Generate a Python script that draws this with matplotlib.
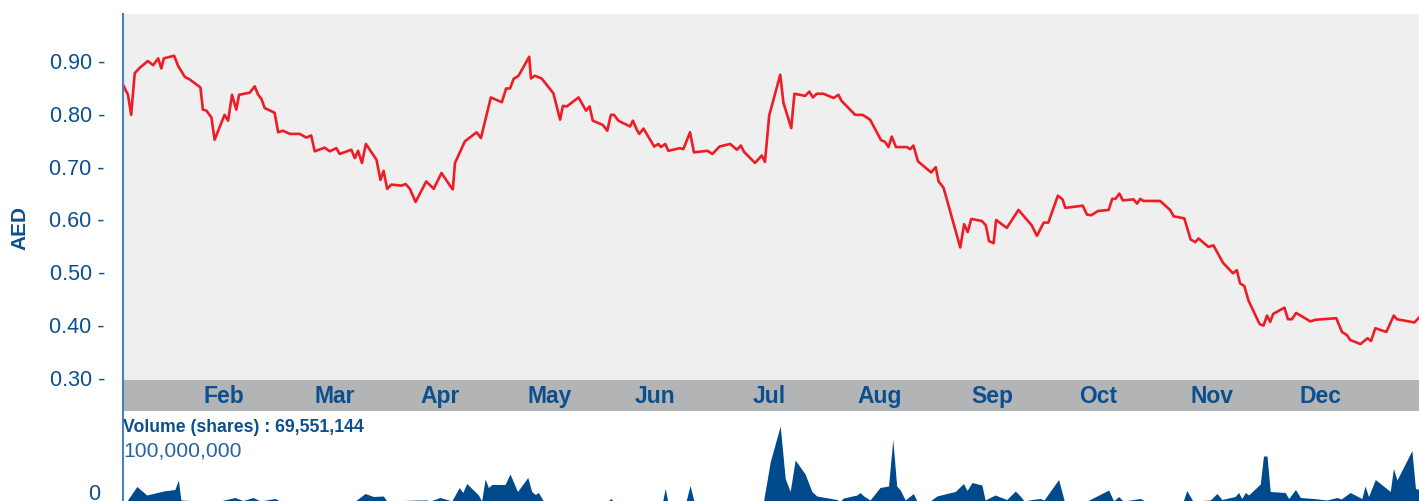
import matplotlib.pyplot as plt
from matplotlib.ticker import FixedLocator

# day of year (0 = 1 Jan) and closing price in AED
price_days = [0, 1.4, 2.3, 3.3, 4.7, 7, 8.5, 9.9, 10.8, 11.5, 14.4, 15.5, 17.4, 18.8,
              21.8, 22.5, 23.5, 24.9, 25.8, 28.6, 29.6, 30.7, 31.9, 32.7, 35.7, 37.1,
              38, 39, 39.9, 42.7, 43.7, 45, 47, 49.8, 51.6, 53, 54, 56.8, 58.2, 60.1,
              61, 64.3, 65.3, 66.2, 67.3, 68.4, 71.4, 72.5, 73.4, 74.4, 75.6, 78.4,
              79.6, 80.8, 82.4, 85.4, 87.5, 89.7, 92.5, 92.9, 93.5, 96.3, 99.6, 100.8,
              103.6, 106.7, 107.9, 109, 110, 111.4, 114.4, 114.9, 116, 117.9, 119.3,
              121.2, 123.1, 123.9, 125, 128.3, 130.4, 131.4, 132.3, 135.1, 136.4,
              137.4, 138.3, 139.5, 142.8, 143.6, 144.7, 145.4, 146.6, 149.6, 150.8,
              151.5, 152.7, 153.6, 156.9, 157.8, 159.7, 160.8, 164.6, 166, 168, 171,
              172.9, 174, 174.9, 178, 179.9, 180.8, 182, 185.1, 186, 188.2, 189.1,
              192.1, 193.3, 194.3, 195.4, 197.3, 200.1, 201.5, 202.3, 206.2, 208.3,
              210.4, 213.5, 214.6, 215.6, 216.5, 217.7, 220.8, 221.7, 222.6, 223.9,
              227.6, 228.9, 229.7, 231.1, 235.8, 236.9, 237.9, 238.9, 241.9, 243,
              243.9, 245.2, 245.9, 248.9, 252.2, 255.9, 257.4, 259.3, 260.6, 263.3,
              264.6, 265.4, 270.3, 271.5, 272.7, 274.6, 277.6, 278.6, 279.5, 280.6,
              281.6, 284.6, 285.6, 286.5, 287.4, 292.1, 294.9, 295.9, 298.9, 300.7,
              302, 302.9, 305.7, 307.1, 309.8, 312.6, 313.7, 314.6, 315.8, 317, 320.1,
              321.2, 322.2, 323.1, 323.9, 327.1, 328.1, 329.2, 330.4, 334.4, 335.8,
              341.7, 343.3, 344.7, 345.6, 348.5, 350.5, 351.5, 352.7, 355.8, 357.9,
              358.8, 363.7, 365]
prices = [0.855, 0.836, 0.798, 0.877, 0.887, 0.900, 0.892, 0.905, 0.886, 0.905, 0.910,
          0.891, 0.870, 0.865, 0.850, 0.808, 0.806, 0.793, 0.751, 0.798, 0.787, 0.836,
          0.808, 0.836, 0.840, 0.852, 0.837, 0.828, 0.811, 0.802, 0.765, 0.768, 0.762,
          0.762, 0.755, 0.759, 0.729, 0.736, 0.729, 0.735, 0.724, 0.732, 0.716, 0.730,
          0.707, 0.743, 0.713, 0.675, 0.692, 0.658, 0.666, 0.664, 0.667, 0.658, 0.633,
          0.672, 0.658, 0.688, 0.660, 0.657, 0.707, 0.748, 0.765, 0.754, 0.831, 0.822,
          0.848, 0.848, 0.866, 0.872, 0.908, 0.867, 0.872, 0.867, 0.855, 0.839, 0.789,
          0.815, 0.814, 0.831, 0.806, 0.814, 0.787, 0.779, 0.768, 0.798, 0.798, 0.787,
          0.776, 0.787, 0.770, 0.762, 0.772, 0.738, 0.743, 0.737, 0.743, 0.730, 0.735,
          0.733, 0.765, 0.727, 0.730, 0.724, 0.738, 0.743, 0.732, 0.740, 0.728, 0.707,
          0.721, 0.709, 0.797, 0.874, 0.821, 0.773, 0.838, 0.834, 0.842, 0.831, 0.838,
          0.838, 0.830, 0.836, 0.825, 0.798, 0.798, 0.789, 0.750, 0.747, 0.737, 0.757,
          0.737, 0.737, 0.733, 0.740, 0.710, 0.689, 0.699, 0.672, 0.660, 0.547, 0.591,
          0.576, 0.601, 0.597, 0.589, 0.559, 0.555, 0.599, 0.584, 0.618, 0.589, 0.569,
          0.594, 0.594, 0.645, 0.638, 0.622, 0.626, 0.609, 0.608, 0.616, 0.618, 0.639,
          0.639, 0.649, 0.636, 0.638, 0.630, 0.639, 0.635, 0.635, 0.618, 0.606, 0.602,
          0.562, 0.557, 0.564, 0.548, 0.551, 0.518, 0.498, 0.504, 0.479, 0.474, 0.446,
          0.402, 0.399, 0.418, 0.406, 0.421, 0.433, 0.411, 0.411, 0.423, 0.407, 0.410,
          0.413, 0.387, 0.381, 0.372, 0.364, 0.375, 0.370, 0.394, 0.387, 0.418, 0.411,
          0.405, 0.414]

# traded volume, millions of shares
vol_days = [0, 1.1, 3.9, 6.7, 8.5, 11.4, 14.6, 15.6, 16.3, 21.7, 27.3, 31.5, 33.8, 36.7,
            38.6, 42.8, 44.2, 65.4, 68.2, 70.5, 73.3, 74.3, 83.1, 85.6, 86.5, 89.3,
            92.6, 94.7, 95.7, 96.8, 100.1, 101, 102, 102.9, 103.9, 107.6, 109, 111.1,
            114, 115.1, 116.1, 117, 118.4, 136.6, 137.4, 138, 152, 152.7, 153.4, 158.6,
            159.7, 160.8, 180.4, 182.3, 185.1, 186.5, 187.9, 189.3, 192.1, 194, 195.4,
            201, 202, 202.9, 206.7, 207.6, 208.6, 210.4, 213.2, 215.6, 216.8, 217.9,
            218.9, 220.3, 222.6, 223.6, 227.3, 229.2, 232, 234.4, 236.7, 237.7, 239.1,
            241.9, 242.8, 245.6, 248.9, 251.3, 252.7, 253.8, 256, 258.3, 259.4, 263.5,
            265.1, 271.5, 274.3, 277.6, 279, 280.4, 281.7, 286.5, 287.9, 298.6, 299.6,
            301.3, 306.2, 308.1, 309.5, 313.2, 314.2, 315.1, 316.1, 317, 320.3, 321.2,
            322.2, 323.1, 327.3, 328.3, 330.2, 331.6, 335.3, 339.1, 341.9, 343.1, 345.6,
            348.9, 349.8, 350.8, 352.7, 356.9, 357.8, 358.8, 363, 364, 365]
volumes = [0, 0, 29, 12, 15, 20, 23, 42, 2, 0, 0, 7, 1, 7, 0, 5, 0, 0, 15, 9, 10, 0, 2,
           2, 0, 7, 0, 27, 17, 35, 12, 0, 44, 27, 33, 33, 54, 19, 47, 19, 13, 17, 0, 0,
           5, 0, 0, 25, 0, 0, 31, 0, 0, 79, 150, 45, 19, 82, 54, 19, 10, 3, 0, 6, 12,
           17, 10, 2, 27, 30, 123, 30, 22, 2, 15, 0, 0, 10, 15, 19, 35, 21, 37, 32, 2,
           12, 3, 20, 10, 0, 3, 5, 2, 43, 0, 0, 10, 22, 0, 9, 0, 5, 0, 0, 21, 0, 2, 15,
           3, 9, 17, 5, 17, 12, 34, 90, 90, 19, 17, 5, 23, 7, 5, 2, 7, 4, 17, 5, 30, 9,
           43, 19, 65, 42, 101, 25, 23]

month_names = ['Feb', 'Mar', 'Apr', 'May', 'Jun', 'Jul', 'Aug', 'Sep', 'Oct', 'Nov', 'Dec']
month_days = [28.5, 59.7, 89.3, 120.3, 149.9, 182, 213, 244.8, 274.6, 306.8, 337.2]
price_ticks = [0.30, 0.40, 0.50, 0.60, 0.70, 0.80, 0.90]

navy = '#0b4f8e'
spine_blue = '#4a80c0'
W, H = 1419, 501

plt.rcParams['font.family'] = ['Liberation Sans', 'DejaVu Sans']
fig = plt.figure(figsize=(W / 100, H / 100), dpi=100)

left = 123 / W
width = 1 - left

# price panel
ax = fig.add_axes([left, (H - 380) / H, width, 366 / H])
ax.set_facecolor('#efefef')
ax.plot(price_days, prices, color='#ee1c25', lw=1.9)
ax.set_xlim(0, 365)
ax.set_ylim(0.296, 0.989)
ax.yaxis.set_major_locator(FixedLocator(price_ticks))
ax.set_yticklabels(['%.2f -' % t for t in price_ticks], color=navy, fontsize=15.5)
ax.tick_params(axis='y', length=0, pad=13)
ax.set_xticks([])
for s in ['top', 'right', 'bottom']:
    ax.spines[s].set_visible(False)
ax.spines['left'].set_color(spine_blue)
ax.spines['left'].set_linewidth(1.5)
fig.text(20 / W, (H - 228) / H, 'AED', rotation=90, ha='center', va='center',
         color=navy, fontsize=15, fontweight='bold')

# month band
band = fig.add_axes([left, (H - 411) / H, width, 31 / H])
band.set_facecolor('#b3b4b6')
band.set_xlim(0, 365)
band.set_ylim(0, 1)
band.set_xticks([])
band.set_yticks([])
for s in ['top', 'right', 'bottom']:
    band.spines[s].set_visible(False)
band.spines['left'].set_color(spine_blue)
band.spines['left'].set_linewidth(1.5)
for d, m in zip(month_days, month_names):
    band.text(d, 0.47, m, ha='center', va='center', color=navy,
              fontsize=16.5, fontweight='bold')

# volume panel
vax = fig.add_axes([left, 0, width, 90 / H])
vax.fill_between(vol_days, volumes, 0, color='#004a8c', lw=0)
vax.set_xlim(0, 365)
vax.set_ylim(0, 180)
vax.set_xticks([])
vax.set_yticks([])
for s in ['top', 'right', 'bottom']:
    vax.spines[s].set_visible(False)
vax.spines['left'].set_color(spine_blue)
vax.spines['left'].set_linewidth(1.5)
vax.text(0.0, 0.82, 'Volume (shares) : 69,551,144', transform=vax.transAxes,
         ha='left', va='center', color=navy, fontsize=12.7, fontweight='bold')
vax.text(0.0, 100, '100,000,000', transform=vax.get_yaxis_transform(),
         ha='left', va='center', color='#2c62a0', fontsize=15.2)
# zero label sits at the foot of the panel, partly clipped like the source
vax.annotate('0', xy=(0, 0), xycoords='axes fraction', xytext=(-23, -4),
             textcoords='offset pixels', ha='right', va='bottom',
             color=navy, fontsize=15.5)

fig.savefig('out.png', dpi=100)
